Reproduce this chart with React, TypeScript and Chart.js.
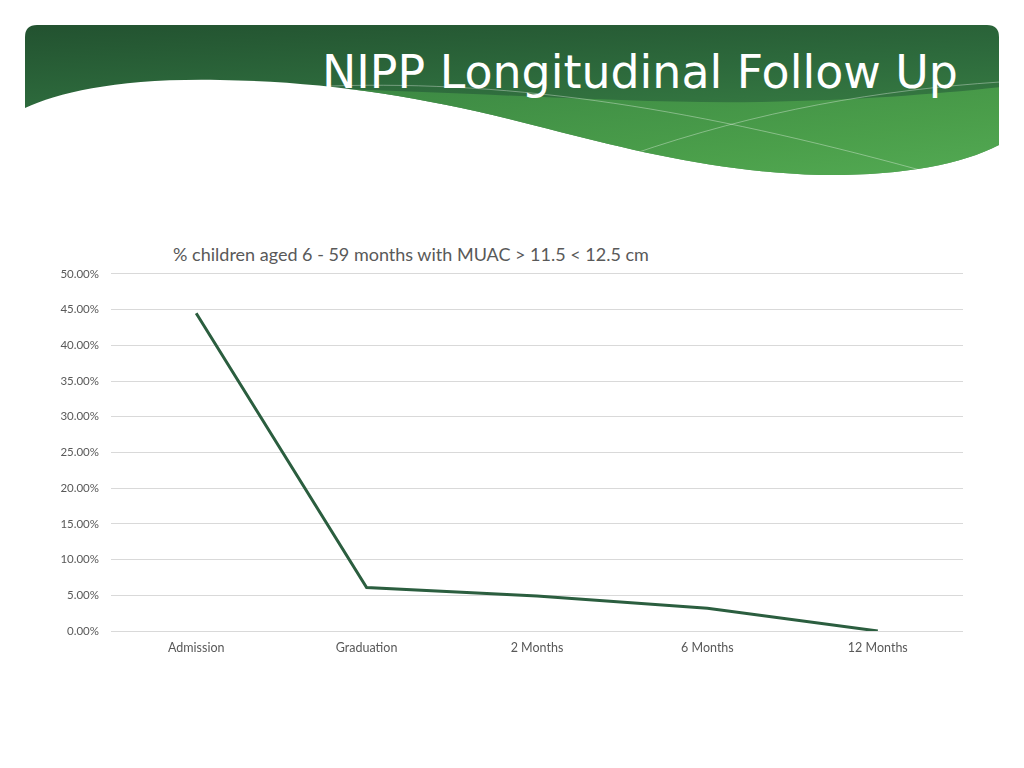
import React, { useEffect, useRef } from "react";
import { Chart, registerables } from "chart.js";

Chart.register(...registerables);

const categories = ["Admission", "Graduation", "2 Months", "6 Months", "12 Months"];
const seriesValues = [44.5, 6.1, 4.9, 3.2, 0];
const seriesName = "% children aged 6 - 59 months with MUAC > 11.5 < 12.5 cm";
const slideTitle = "NIPP Longitudinal Follow Up";
const yMin = 0;
const yMax = 50;
const yStep = 5;

function Banner() {
  return (
    <svg width={1024} height={200} style={{ position: "absolute", left: 0, top: 0 }}>
      <defs>
        <linearGradient id="g1" x1="0" y1="0" x2="0.3" y2="1">
          <stop offset="0" stopColor="#1f4a2c" />
          <stop offset="0.5" stopColor="#2d6a3c" />
          <stop offset="1" stopColor="#3f8a47" />
        </linearGradient>
        <linearGradient id="g2" x1="0" y1="0" x2="1" y2="1">
          <stop offset="0" stopColor="#3f8f45" />
          <stop offset="0.6" stopColor="#4fa64c" />
          <stop offset="1" stopColor="#5bb55a" />
        </linearGradient>
        <clipPath id="cp">
          <path d="M25 37 Q25 25 37 25 L987 25 Q999 25 999 37 L999 145 C960 165 900 176 820 175 C720 172 640 152 560 132 C440 100 340 82 220 80 C120 78 60 92 25 108 Z" />
        </clipPath>
      </defs>
      <g clipPath="url(#cp)">
        <rect x={0} y={0} width={1024} height={200} fill="url(#g1)" />
        <path d="M300 88 C480 92 620 104 760 102 C860 100 940 94 1010 86 L1010 200 L300 200 Z" fill="url(#g2)" opacity={0.8} />
        <path d="M330 86 C520 80 700 110 920 170" stroke="#ffffff" strokeOpacity={0.35} strokeWidth={1} fill="none" />
        <path d="M630 155 C760 110 880 90 1000 82" stroke="#ffffff" strokeOpacity={0.35} strokeWidth={1} fill="none" />
      </g>
      <text
        x={322}
        y={88}
        textLength={636}
        lengthAdjust="spacingAndGlyphs"
        fill="#ffffff"
        style={{ fontFamily: "'DejaVu Sans', sans-serif", fontSize: 47 }}
      >
        {slideTitle}
      </text>
    </svg>
  );
}

export default function App() {
  const canvasRef = useRef<HTMLCanvasElement | null>(null);

  useEffect(() => {
    if (!canvasRef.current) return;
    const chart = new Chart(canvasRef.current, {
      type: "line",
      data: {
        labels: categories,
        datasets: [
          {
            label: seriesName,
            data: seriesValues,
            borderColor: "#2b5e3f",
            backgroundColor: "#2b5e3f",
            borderWidth: 3,
            pointRadius: 0,
            tension: 0,
          },
        ],
      },
      options: {
        animation: false,
        responsive: false,
        maintainAspectRatio: false,
        layout: { padding: { top: 0, right: 17, left: 0, bottom: 0 } },
        plugins: {
          legend: { display: false },
          title: { display: false },
          tooltip: { enabled: false },
        },
        scales: {
          x: {
            offset: true,
            grid: { display: false, drawTicks: false },
            border: { display: false },
            ticks: {
              color: "#595959",
              padding: 9,
              font: { family: "Lato", size: 12.5 },
              maxRotation: 0,
            },
            afterFit: (scale: any) => {
              scale.height = 31;
            },
          },
          y: {
            min: yMin,
            max: yMax,
            grid: { color: "#d9d9d9", lineWidth: 1, drawTicks: false },
            border: { display: false },
            ticks: {
              stepSize: yStep,
              color: "#595959",
              padding: 12,
              font: { family: "Lato", size: 11.5 },
              callback: (v: any) => Number(v).toFixed(2) + "%",
            },
            afterFit: (scale: any) => {
              scale.width = 71;
            },
          },
        },
      },
    });
    return () => chart.destroy();
  }, []);

  return (
    <div style={{ position: "fixed", left: 0, top: 0, width: 1024, height: 768, background: "#ffffff", overflow: "hidden" }}>
      <Banner />
      <div
        style={{
          position: "absolute",
          left: 0,
          top: 243,
          width: 822,
          textAlign: "center",
          fontFamily: "Lato, sans-serif",
          fontSize: 18,
          color: "#595959",
          lineHeight: "22px",
        }}
      >
        {seriesName}
      </div>
      <canvas
        ref={canvasRef}
        width={940}
        height={407}
        style={{ position: "absolute", left: 40, top: 255, width: 940, height: 407 }}
      />
    </div>
  );
}
